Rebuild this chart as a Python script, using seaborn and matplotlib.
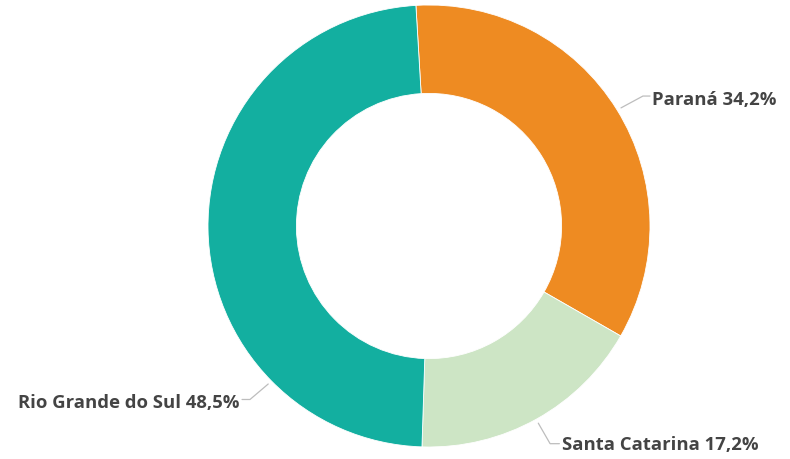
import numpy as np
import matplotlib
matplotlib.use("Agg")
import matplotlib.pyplot as plt
import seaborn as sns

# Data
states = ["Paraná", "Santa Catarina", "Rio Grande do Sul"]
shares = [34.2, 17.2, 48.5]
colors = ["#EE8B22", "#CDE5C5", "#13AFA0"]

sns.set_theme(style="white")
plt.rcParams["font.family"] = ["Open Sans", "DejaVu Sans"]

fig = plt.figure(figsize=(7.9, 4.59), dpi=100)
# square axes, 442 px on a side, centred on the donut
ax = fig.add_axes([208 / 790, 12 / 459, 442 / 790, 442 / 459])

ax.pie(shares, colors=sns.color_palette(colors), startangle=93.4, counterclock=False,
       radius=1, wedgeprops=dict(width=0.4, edgecolor="white", linewidth=0.6))
ax.set_xlim(-1, 1)
ax.set_ylim(-1, 1)
ax.set_aspect("equal")
ax.axis("off")

# leader lines: start angle on ring, elbow, text anchor (data units)
label_layout = [
    dict(ang=31.6, elbow=(0.968, 0.588), end=(1.0, 0.588), ha="left", ty=0.572),
    dict(ang=-61.0, elbow=(0.548, -0.985), end=(0.59, -0.985), ha="left", ty=-0.99),
    dict(ang=224.5, elbow=(-0.810, -0.785), end=(-0.846, -0.785), ha="right", ty=-0.80),
]

for name, val, lay in zip(states, shares, label_layout):
    a = np.deg2rad(lay["ang"])
    x0, y0 = 1.02 * np.cos(a), 1.02 * np.sin(a)
    ex, ey = lay["elbow"]
    tx, ty = lay["end"]
    ax.plot([x0, ex, tx], [y0, ey, ty], color="#BDBDBD", lw=0.9, clip_on=False)
    pad = 0.01 if lay["ha"] == "left" else -0.01
    txt = f"{name} {val:.1f}%".replace(".", ",")
    ax.text(tx + pad, lay["ty"], txt, ha=lay["ha"], va="center", fontsize=13.3,
            fontweight="bold", color="#444444", clip_on=False)

fig.savefig("out.png", dpi=100)
